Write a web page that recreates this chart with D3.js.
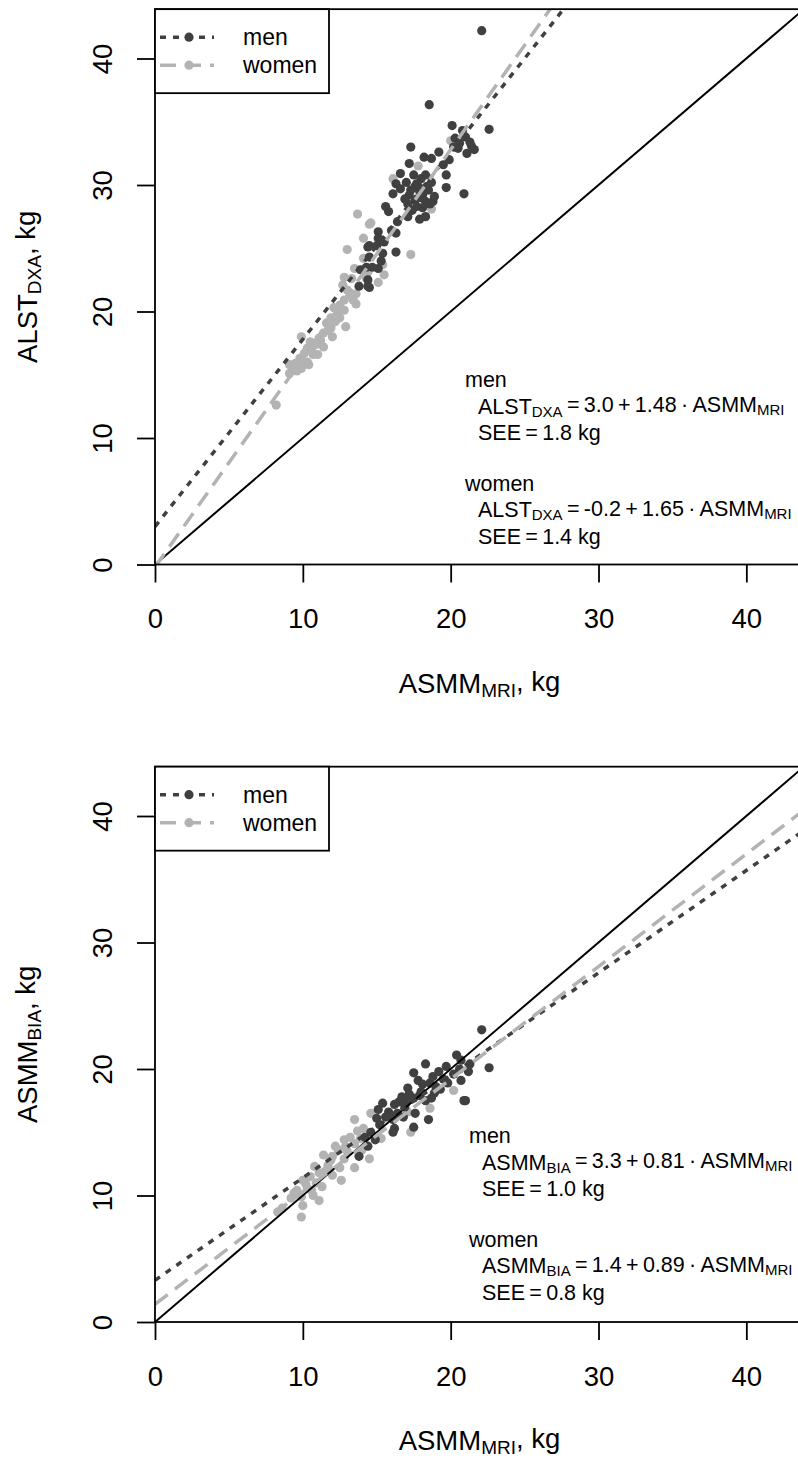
<!DOCTYPE html>
<html>
<head>
<meta charset="utf-8">
<script src="https://cdn.jsdelivr.net/npm/d3@7"></script>
<style>
  body { margin: 0; background: #fff; }
  svg { display: block; font-family: "Liberation Sans", Arial, sans-serif; }
</style>
</head>
<body>
<div id="chart"></div>
<script>
// axis ticks
const xTicks = [0, 10, 20, 30, 40];
const yTicks = [0, 10, 20, 30, 40];
const legendLabels = ["men", "women"];

// ASMM_MRI vs ALST_DXA
const menDXA = [
  [22.1, 42.2], [18.55, 36.35], [20.1, 34.7], [20.8, 34.3], [22.6, 34.4], [20.3, 33.7], [21.0, 33.8],
  [21.4, 33.1], [20.5, 32.9], [21.1, 32.5], [17.3, 33.0], [19.2, 32.6], [18.2, 32.2], [18.7, 32.1],
  [17.2, 31.7], [19.5, 31.6], [16.6, 30.9], [17.5, 30.8], [18.3, 30.8], [19.7, 30.8], [16.3, 30.1],
  [17.0, 30.2], [17.7, 30.1], [18.7, 30.2], [19.7, 29.8], [17.3, 29.6], [17.9, 29.5], [18.5, 29.6],
  [16.1, 29.3], [17.2, 29.2], [18.9, 29.1], [20.9, 29.3], [17.6, 28.8], [18.3, 28.7], [18.8, 28.7],
  [17.1, 28.5], [15.6, 28.3], [15.8, 27.9], [17.7, 28.3], [17.1, 27.5], [17.9, 27.3], [18.3, 27.5],
  [16.4, 27.1], [16.0, 26.4], [15.1, 26.3], [16.3, 26.2], [15.1, 25.8], [14.5, 25.2], [15.0, 25.2],
  [15.4, 24.6], [14.5, 24.3], [16.3, 24.7], [14.3, 23.5], [14.7, 23.5], [15.1, 23.4], [13.9, 23.3],
  [14.4, 22.5], [13.8, 22.0], [14.5, 21.9], [14.4, 25.1], [14.4, 22.0], [17.8, 29.9], [18.0, 29.0],
  [18.6, 28.5], [20.6, 33.3], [21.6, 32.8], [17.6, 29.9], [18.1, 28.2], [16.9, 28.9], [19.9, 32.0],
  [15.5, 25.5], [18.1, 29.2], [18.4, 29.9], [17.4, 28.0], [21.3, 33.4], [20.2, 33.0], [16.6, 29.7],
  [18.0, 30.5], [15.3, 24.0]
];
const womenDXA = [
  [13.7, 27.7], [14.5, 26.9], [14.1, 25.8], [13.0, 24.9], [14.1, 24.2], [13.5, 23.4], [12.8, 22.7],
  [13.3, 22.6], [12.7, 22.1], [14.3, 22.6], [14.4, 23.1], [13.0, 21.7], [12.8, 20.9], [13.4, 20.9],
  [13.6, 20.6], [12.5, 20.5], [12.8, 20.1], [12.4, 19.9], [11.9, 19.5], [12.5, 19.5], [12.9, 18.8],
  [11.6, 19.1], [11.9, 18.7], [11.4, 18.3], [12.0, 18.0], [11.1, 17.9], [9.9, 18.0], [10.5, 17.6],
  [10.9, 17.4], [11.4, 17.2], [10.3, 17.1], [10.1, 16.7], [10.7, 16.6], [11.0, 16.6], [9.8, 16.3],
  [10.3, 16.0], [9.5, 15.9], [9.1, 15.8], [9.9, 15.5], [9.3, 15.4], [9.6, 15.3], [9.1, 15.1],
  [16.1, 30.5], [17.8, 31.5], [14.6, 27.0], [17.3, 24.5], [15.4, 23.7], [15.5, 22.9], [15.1, 22.3],
  [13.6, 21.4], [20.0, 33.5], [18.7, 28.1], [8.2, 12.6], [10.6, 16.9], [11.2, 17.7], [12.2, 19.2],
  [10.0, 16.0], [11.7, 18.5], [12.1, 20.3], [13.2, 21.3], [10.4, 15.8]
];

// ASMM_MRI vs ASMM_BIA
const menBIA = [
  [22.1, 23.1], [18.3, 20.4], [20.4, 21.1], [20.7, 20.7], [22.6, 20.1], [19.7, 20.2], [19.2, 19.8],
  [21.2, 19.8], [17.5, 19.7], [17.8, 19.1], [18.6, 18.9], [19.8, 18.9], [20.7, 19.1], [17.1, 18.5],
  [18.0, 18.2], [18.9, 18.1], [20.9, 17.5], [16.7, 17.8], [17.5, 17.7], [18.3, 17.5], [15.4, 17.3],
  [16.2, 17.2], [16.9, 17.0], [15.1, 16.8], [15.8, 16.6], [16.4, 16.5], [17.6, 16.5], [15.0, 16.1],
  [16.1, 16.0], [18.5, 16.0], [15.2, 15.6], [16.2, 15.3], [17.5, 15.4], [14.6, 15.0], [14.2, 14.6],
  [14.9, 14.4], [14.4, 13.9], [13.8, 13.1], [21.0, 17.5], [16.1, 15.0], [18.8, 19.4], [19.5, 19.2],
  [20.2, 19.6], [17.2, 18.0], [18.1, 18.8], [16.5, 17.4], [19.0, 18.6], [15.6, 16.2], [21.3, 20.4],
  [20.6, 20.0], [17.9, 17.9], [18.7, 17.7], [16.8, 16.2], [19.3, 18.4], [17.0, 17.4]
];
const womenBIA = [
  [13.5, 16.0], [14.6, 16.5], [14.1, 15.3], [12.8, 14.4], [13.2, 14.6], [13.9, 14.5], [15.3, 14.5],
  [14.5, 12.9], [13.5, 14.1], [12.4, 13.6], [13.0, 13.5], [11.4, 13.2], [12.0, 13.1], [12.8, 12.9],
  [13.5, 12.2], [11.7, 12.4], [10.8, 12.3], [12.5, 12.2], [11.1, 11.8], [12.0, 11.6], [12.6, 11.2],
  [10.5, 11.5], [10.0, 11.2], [10.9, 11.0], [11.3, 10.7], [10.3, 10.6], [9.6, 10.4], [10.7, 10.0],
  [11.1, 9.6], [9.9, 9.9], [9.2, 9.8], [10.0, 9.2], [8.6, 9.0], [8.3, 8.7], [9.9, 8.3], [18.6, 16.9],
  [20.2, 18.3], [17.3, 15.0], [17.1, 16.6], [11.9, 12.8], [12.2, 13.9], [13.7, 15.1], [10.2, 10.9],
  [11.5, 11.9], [9.4, 10.2], [14.0, 13.6], [12.9, 13.9], [10.6, 10.4], [11.8, 12.0]
];

// fitted lines [intercept, slope] and SEE
const menFitDXA = [3.0, 1.48];
const womenFitDXA = [-0.2, 1.65];
const menFitBIA = [3.3, 0.81];
const womenFitBIA = [1.4, 0.89];
const seeDXA = [1.8, 1.4];
const seeBIA = [1.0, 0.8];

const W = 798, H = 1459;
const menCol = "#404040", womenCol = "#b3b3b3";
const axMax = 43.9;
const th = "\u2009"; // thin space, plotmath-like spacing

const svg = d3.select("#chart").append("svg")
    .attr("width", W)
    .attr("height", H);

function subText(sel, parts, sub) {
    // parts: [[text, isSub], ...]
    parts.forEach((p, i) => {
        const t = sel.append("tspan").text(p[0]);
        if (p[1]) t.attr("font-size", sub).attr("dy", "0.22em");
        else if (i > 0) t.attr("dy", "-0.22em");
    });
}

function drawPanel(id, yBottom, yName, menPts, womenPts, menFit, womenFit, see, ann) {
    const x = d3.scaleLinear().domain([0, axMax]).range([155, 804]);
    const y = d3.scaleLinear().domain([0, axMax]).range([yBottom, yBottom - axMax * 12.65]);
    const top = y(axMax);

    const g = svg.append("g").attr("class", id);

    g.append("clipPath").attr("id", "clip_" + id)
        .append("rect")
        .attr("x", x(0)).attr("y", top)
        .attr("width", x(axMax) - x(0)).attr("height", yBottom - top);

    const plot = g.append("g").attr("clip-path", `url(#clip_${id})`);

    // points
    plot.append("g").selectAll("circle")
        .data(womenPts)
        .join("circle")
        .attr("cx", d => x(d[0]))
        .attr("cy", d => y(d[1]))
        .attr("r", 4.6)
        .attr("fill", womenCol);
    plot.append("g").selectAll("circle")
        .data(menPts)
        .join("circle")
        .attr("cx", d => x(d[0]))
        .attr("cy", d => y(d[1]))
        .attr("r", 4.6)
        .attr("fill", menCol);

    // identity + regression lines
    const ends = [0, axMax];
    const line = f => d3.line()
        .x(d => x(d))
        .y(d => y(f[0] + f[1] * d))(ends);
    plot.append("path").attr("d", line([0, 1]))
        .attr("stroke", "#000").attr("stroke-width", 2).attr("fill", "none");
    plot.append("path").attr("d", line(menFit))
        .attr("stroke", menCol).attr("stroke-width", 3.5)
        .attr("stroke-dasharray", "6,7").attr("fill", "none");
    plot.append("path").attr("d", line(womenFit))
        .attr("stroke", womenCol).attr("stroke-width", 3.5)
        .attr("stroke-dasharray", "16,9").attr("fill", "none");

    // axes
    const xAxis = g.append("g")
        .attr("transform", `translate(0,${yBottom})`)
        .call(d3.axisBottom(x).tickValues(xTicks).tickSize(18).tickSizeOuter(0).tickPadding(26));
    const yAxis = g.append("g")
        .attr("transform", `translate(${x(0)},0)`)
        .call(d3.axisLeft(y).tickValues(yTicks).tickSize(18).tickSizeOuter(0));
    [xAxis, yAxis].forEach(a => {
        a.select(".domain").remove();
        a.attr("font-family", null).attr("font-size", 27.5);
        a.selectAll("line").attr("stroke", "#000").attr("stroke-width", 1.8);
        a.selectAll("text").attr("fill", "#000");
    });
    yAxis.selectAll("text")
        .attr("transform", "rotate(-90)")
        .attr("x", 0).attr("y", -43).attr("dy", 0)
        .attr("text-anchor", "middle");

    // box
    g.append("rect")
        .attr("x", x(0)).attr("y", top)
        .attr("width", x(axMax) - x(0)).attr("height", yBottom - top)
        .attr("fill", "none").attr("stroke", "#000").attr("stroke-width", 1.8);

    // axis titles
    const xt = g.append("text")
        .attr("x", (x(0) + x(axMax)) / 2).attr("y", yBottom + 128)
        .attr("text-anchor", "middle").attr("font-size", 27.5);
    subText(xt, [["ASMM", false], ["MRI", true], [", kg", false]], 19);
    const yt = g.append("text")
        .attr("transform", `translate(37,${(top + yBottom) / 2}) rotate(-90)`)
        .attr("text-anchor", "middle").attr("font-size", 27.5);
    subText(yt, [[yName[0], false], [yName[1], true], [", kg", false]], 19);

    // legend
    const lg = g.append("g");
    lg.append("rect")
        .attr("x", x(0)).attr("y", top)
        .attr("width", 174).attr("height", 84)
        .attr("fill", "#fff").attr("stroke", "#000").attr("stroke-width", 1.8);
    const items = lg.selectAll("g.item")
        .data(legendLabels)
        .join("g").attr("class", "item")
        .attr("transform", (d, i) => `translate(${x(0)},${top + 28 + i * 28})`);
    items.append("line")
        .attr("x1", 5).attr("x2", 59).attr("y1", 0).attr("y2", 0)
        .attr("stroke", (d, i) => i === 0 ? menCol : womenCol)
        .attr("stroke-width", 3.5)
        .attr("stroke-dasharray", (d, i) => i === 0 ? "6,7" : "16,9");
    items.append("circle")
        .attr("cx", 34).attr("cy", 0).attr("r", 4.6)
        .attr("fill", (d, i) => i === 0 ? menCol : womenCol);
    items.append("text")
        .attr("x", 88).attr("y", 8)
        .attr("font-size", 23)
        .text(d => d);

    // regression annotations
    const fits = [menFit, womenFit];
    legendLabels.forEach((lab, i) => {
        const by = ann.y + i * 103.5;
        const f = fits[i];
        g.append("text").attr("x", ann.x).attr("y", by).attr("font-size", 21.5).text(lab);
        const eq = g.append("text").attr("x", ann.x + 13).attr("y", by + 26.5).attr("font-size", 21.5);
        subText(eq, [[yName[0], false], [yName[1], true],
            [`${th}=${th}${f[0].toFixed(1)}${th}+${th}${f[1].toFixed(2)}${th}\u00b7${th}ASMM`, false],
            ["MRI", true]], 15);
        g.append("text").attr("x", ann.x + 13).attr("y", by + 53).attr("font-size", 21.5)
            .text(`SEE${th}=${th}${see[i].toFixed(1)} kg`);
    });
}

drawPanel("dxa", 564.5, ["ALST", "DXA"], menDXA, womenDXA, menFitDXA, womenFitDXA, seeDXA, { x: 465, y: 387 });
drawPanel("bia", 1322, ["ASMM", "BIA"], menBIA, womenBIA, menFitBIA, womenFitBIA, seeBIA, { x: 469, y: 1143 });
</script>
</body>
</html>
